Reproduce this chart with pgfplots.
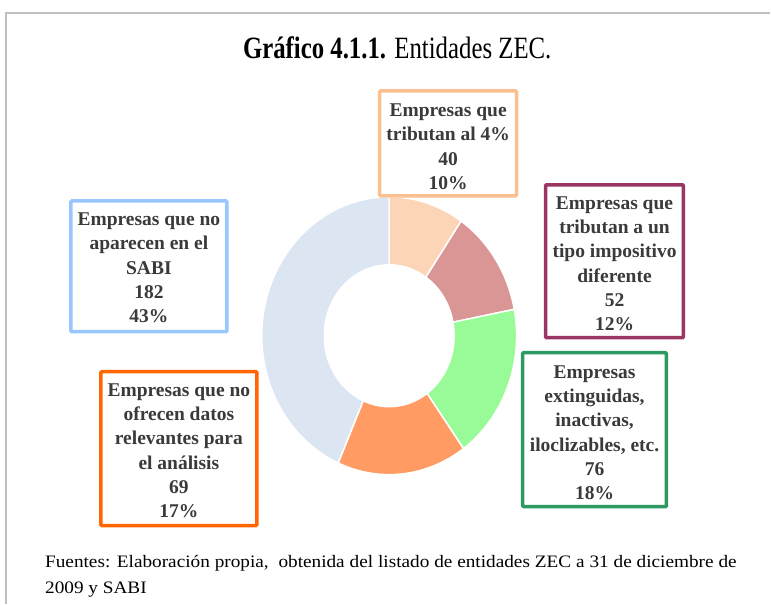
\documentclass[border=0pt]{standalone}
\usepackage{pgfplots}
\pgfplotsset{compat=1.18}
\usepackage{pgfplotstable}
\usepackage{fontspec}
\setmainfont{Liberation Serif}
\newfontfamily\titlefont[FakeStretch=0.8]{Liberation Serif}
\newfontfamily\footfont[FakeStretch=1.1]{Liberation Serif}
\usetikzlibrary{calc}
\definecolor{wA}{HTML}{FBD5B5}
\definecolor{wB}{HTML}{D99694}
\definecolor{wC}{HTML}{98FB98}
\definecolor{wD}{HTML}{FF9B63}
\definecolor{wE}{HTML}{DCE6F2}
\definecolor{bA}{HTML}{FAC090}
\definecolor{bB}{HTML}{9B3563}
\definecolor{bC}{HTML}{2E9A63}
\definecolor{bD}{HTML}{FF6600}
\definecolor{bE}{HTML}{99C6FF}
\definecolor{txt}{HTML}{3A3A3A}
\definecolor{frame}{HTML}{C0C0C0}

\pgfplotstableread{
value
40
52
76
69
182
}\datatable

\newcommand\cx{389.5}
\newcommand\cy{336}
\newcommand\donutwedge[3]{%
  \fill[#3, draw=white, line width=1.5pt]
    ($(axis cs:\cx,\cy)+(#1:127.5pt and 139pt)$)
    arc[start angle=#1, end angle=#2, x radius=127.5pt, y radius=139pt]
    -- ($(axis cs:\cx,\cy)+(#2:65pt and 71pt)$)
    arc[start angle=#2, end angle=#1, x radius=65pt, y radius=71pt]
    -- cycle;}
\newcommand\labelbox[5]{% x1,y1,x2,y2,color
  \draw[#5, line width=3.5pt, fill=white, rounded corners=1pt]
    (axis cs:#1,#2) rectangle (axis cs:#3,#4);}

\begin{document}
\begin{tikzpicture}
\pgfplotstablegetelem{0}{value}\of\datatable \let\vA\pgfplotsretval
\pgfplotstablegetelem{1}{value}\of\datatable \let\vB\pgfplotsretval
\pgfplotstablegetelem{2}{value}\of\datatable \let\vC\pgfplotsretval
\pgfplotstablegetelem{3}{value}\of\datatable \let\vD\pgfplotsretval
\pgfplotstablegetelem{4}{value}\of\datatable \let\vE\pgfplotsretval
\pgfmathsetmacro\tot{\vA+\vB+\vC+\vD+\vE}
\pgfmathsetmacro\aA{90}
\pgfmathsetmacro\aB{\aA-\vA/\tot*360}
\pgfmathsetmacro\aC{\aB-\vB/\tot*360}
\pgfmathsetmacro\aD{\aC-\vC/\tot*360}
\pgfmathsetmacro\aE{\aD-\vD/\tot*360}
\pgfmathsetmacro\aF{-270}
\begin{axis}[x=1pt, y=1pt, xmin=0, xmax=771, ymin=0, ymax=604,
  y dir=reverse, hide axis, clip=false]
\path (axis cs:0,0) rectangle (axis cs:771,604);
\draw[frame, line width=1.2pt] (axis cs:6,604) -- (axis cs:6,13) -- (axis cs:771,13);
\node[anchor=base, font=\titlefont\fontsize{31}{36}\selectfont] at (axis cs:397.5,58.3)
  {\textbf{Gráfico 4.1.1.} Entidades ZEC.};
\donutwedge{\aA}{\aB}{wA}
\donutwedge{\aB}{\aC}{wB}
\donutwedge{\aC}{\aD}{wC}
\donutwedge{\aD}{\aE}{wD}
\donutwedge{\aE}{\aF}{wE}
\labelbox{380}{91}{517}{196}{bA}
\labelbox{546}{185}{684}{338}{bB}
\labelbox{523}{353}{667}{507}{bC}
\labelbox{101}{372}{257}{526}{bD}
\labelbox{71}{201}{227}{332}{bE}
\tikzset{lbl/.style={align=center, text=txt, inner sep=0pt,
  font=\fontsize{19.5}{24.3}\selectfont\bfseries}}
\node[lbl] at (axis cs:448.5,147) {Empresas que\\tributan al 4\%\\40\\10\%};
\node[lbl] at (axis cs:615,264) {Empresas que\\tributan a un\\tipo impositivo\\diferente\\52\\12\%};
\node[lbl] at (axis cs:595,433) {Empresas\\extinguidas,\\inactivas,\\iloclizables, etc.\\76\\18\%};
\node[lbl] at (axis cs:179,451) {Empresas que no\\ofrecen datos\\relevantes para\\el análisis\\69\\17\%};
\node[lbl] at (axis cs:149,268) {Empresas que no\\aparecen en el\\SABI\\182\\43\%};
\node[anchor=base west, inner sep=0pt, font=\footfont\fontsize{17.5}{26}\selectfont] at (axis cs:45,568.3)
  {\makebox[692pt][s]{Fuentes: Elaboración propia,\ \ obtenida del listado de entidades ZEC a 31 de diciembre de}};
\node[anchor=base west, inner sep=0pt, font=\footfont\fontsize{17.5}{26}\selectfont] at (axis cs:45,594.3)
  {2009 y SABI};
\end{axis}
\end{tikzpicture}
\end{document}
